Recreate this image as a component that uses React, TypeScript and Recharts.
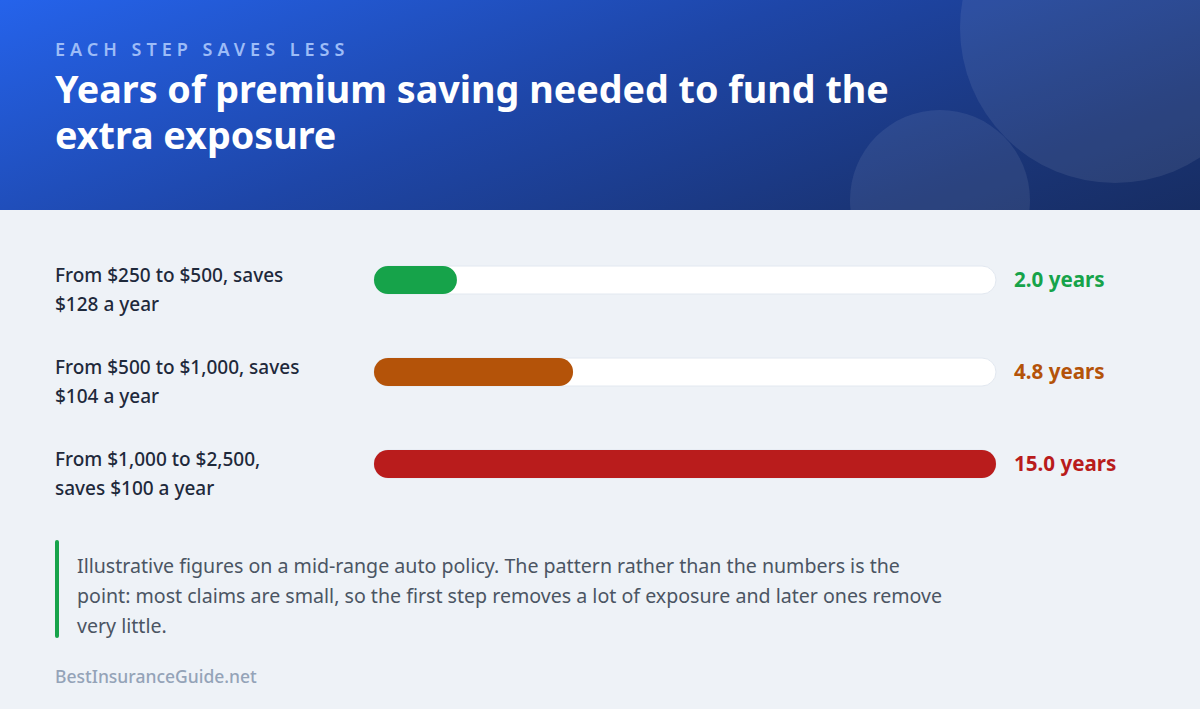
import React from 'react';
import { BarChart, Bar, XAxis, YAxis, Cell } from 'recharts';

const categories = ['step1', 'step2', 'step3'];
const labelLine1 = ['From $250 to $500, saves', 'From $500 to $1,000, saves', 'From $1,000 to $2,500,'];
const labelLine2 = ['$128 a year', '$104 a year', 'saves $100 a year'];
const yearsNeeded = [2.0, 4.8, 15.0];
const valueLabels = ['2.0 years', '4.8 years', '15.0 years'];
const barColors = ['#16a34a', '#b45309', '#b91c1c'];
const xTicks = [0, 15];

const data = categories.map((c, i) => ({ cat: c, years: yearsNeeded[i] }));

const FONT = '"Noto Sans", "Open Sans", sans-serif';

const LeftTick = (props: any) => {
  const { y, index } = props;
  return (
    <text x={55} y={y} fontFamily={FONT} fontSize={19} fontWeight={500} fill="#1e293b">
      <tspan x={55} dy={2}>{labelLine1[index]}</tspan>
      <tspan x={55} dy={29}>{labelLine2[index]}</tspan>
    </text>
  );
};

const RightTick = (props: any) => {
  const { y, index } = props;
  return (
    <text x={1014} y={y + 7} fontFamily={FONT} fontSize={20.6} fontWeight={700} fill={barColors[index]}>
      {valueLabels[index]}
    </text>
  );
};

export default function App() {
  return (
    <div style={{ position: 'absolute', left: 0, top: 0, width: 1200, height: 709, background: '#eef2f7', overflow: 'hidden', fontFamily: FONT }}>
      <div style={{ position: 'absolute', left: 0, top: 0, width: 1200, height: 210, background: 'linear-gradient(160deg, #2563eb 0%, #1e46a8 45%, #1a3578 80%, #172d63 100%)', overflow: 'hidden' }}>
        <div style={{ position: 'absolute', left: 1115 - 155, top: 28 - 155, width: 310, height: 310, borderRadius: '50%', background: 'rgba(255,255,255,0.08)' }} />
        <div style={{ position: 'absolute', left: 940 - 90, top: 200 - 90, width: 180, height: 180, borderRadius: '50%', background: 'rgba(255,255,255,0.08)' }} />
        <div style={{ position: 'absolute', left: 55, top: 39, fontSize: 18, lineHeight: '20px', fontWeight: 600, letterSpacing: 5, color: '#9dbcf7', whiteSpace: 'nowrap' }}>EACH STEP SAVES LESS</div>
        <div style={{ position: 'absolute', left: 55, top: 66, fontSize: 37.7, lineHeight: '46px', fontWeight: 700, color: '#ffffff', width: 900 }}>
          Years of premium saving needed to fund the<br />extra exposure
        </div>
      </div>
      <div style={{ position: 'absolute', left: 0, top: 234 }}>
        <BarChart width={1200} height={276} data={data} layout="vertical" margin={{ top: 0, right: 0, bottom: 0, left: 0 }} barSize={28}>
          <XAxis type="number" domain={[0, 15]} ticks={xTicks} hide />
          <YAxis yAxisId="left" type="category" dataKey="cat" width={374} axisLine={false} tickLine={false} tick={<LeftTick />} />
          <YAxis yAxisId="right" orientation="right" type="category" dataKey="cat" width={204} axisLine={false} tickLine={false} tick={<RightTick />} />
          <Bar yAxisId="left" dataKey="years" radius={14} isAnimationActive={false} background={{ fill: '#ffffff', stroke: '#e2e8f0', strokeWidth: 1, radius: 14 }}>
            {data.map((d, i) => (
              <Cell key={d.cat} fill={barColors[i]} />
            ))}
          </Bar>
        </BarChart>
      </div>
      <div style={{ position: 'absolute', left: 55, top: 540, width: 4, height: 98, borderRadius: 2, background: '#16a34a' }} />
      <div style={{ position: 'absolute', left: 77, top: 551, fontSize: 19.6, lineHeight: '30px', color: '#4b5563', whiteSpace: 'nowrap' }}>
        Illustrative figures on a mid-range auto policy. The pattern rather than the numbers is the<br />
        point: most claims are small, so the first step removes a lot of exposure and later ones remove<br />
        very little.
      </div>
      <div style={{ position: 'absolute', left: 55, top: 666, fontSize: 17.5, lineHeight: '20px', fontWeight: 500, color: '#94a3b8', whiteSpace: 'nowrap' }}>BestInsuranceGuide.net</div>
    </div>
  );
}
